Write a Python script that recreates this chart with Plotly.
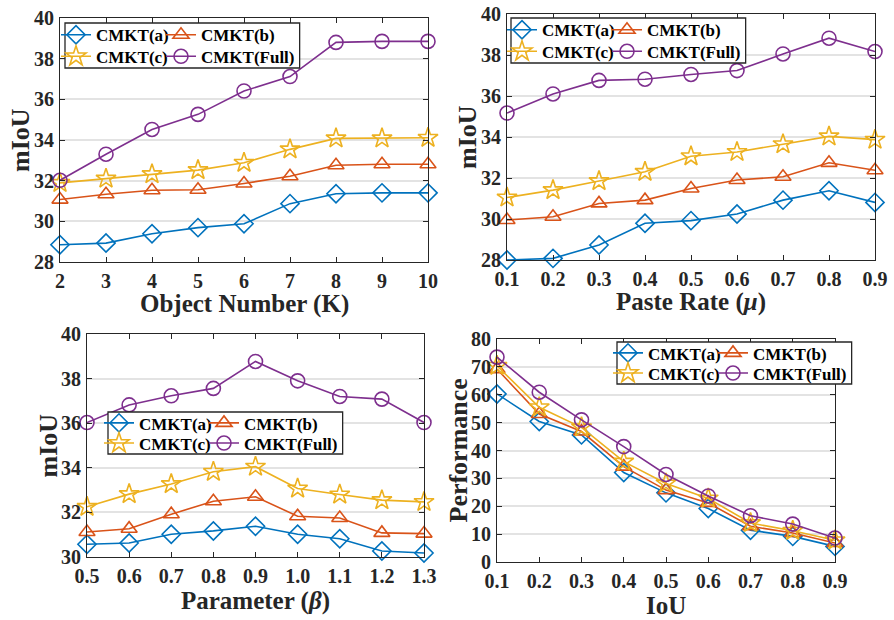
import plotly.graph_objects as go

# ---------------- data ----------------
series_names = ["CMKT(a)", "CMKT(b)", "CMKT(c)", "CMKT(Full)"]

k_values = [2, 3, 4, 5, 6, 7, 8, 9, 10]
k_a = [28.85, 28.93, 29.39, 29.69, 29.88, 30.87, 31.36, 31.40, 31.40]
k_b = [31.07, 31.33, 31.53, 31.55, 31.86, 32.22, 32.76, 32.81, 32.81]
k_c = [31.89, 32.10, 32.32, 32.52, 32.88, 33.54, 34.08, 34.08, 34.11]
k_full = [32.02, 33.30, 34.52, 35.26, 36.41, 37.12, 38.80, 38.85, 38.85]

mu_values = [0.1, 0.2, 0.3, 0.4, 0.5, 0.6, 0.7, 0.8, 0.9]
mu_a = [28.00, 28.08, 28.73, 29.79, 29.92, 30.24, 30.92, 31.38, 30.81]
mu_b = [29.95, 30.11, 30.76, 30.92, 31.49, 31.90, 32.06, 32.74, 32.38]
mu_c = [31.05, 31.41, 31.85, 32.30, 33.06, 33.27, 33.65, 34.03, 33.87]
mu_full = [35.17, 36.10, 36.76, 36.82, 37.05, 37.24, 38.05, 38.82, 38.17]

beta_values = [0.5, 0.6, 0.7, 0.8, 0.9, 1.0, 1.1, 1.2, 1.3]
beta_a = [30.57, 30.63, 31.02, 31.17, 31.38, 31.02, 30.82, 30.27, 30.18]
beta_b = [31.12, 31.27, 31.92, 32.50, 32.70, 31.83, 31.75, 31.08, 31.05]
beta_c = [32.25, 32.82, 33.27, 33.82, 34.05, 33.07, 32.80, 32.55, 32.47]
beta_full = [36.03, 36.82, 37.23, 37.56, 38.77, 37.90, 37.20, 37.08, 36.03]

iou_values = [0.1, 0.2, 0.3, 0.4, 0.5, 0.6, 0.7, 0.8, 0.9]
iou_a = [60.3, 50.4, 45.6, 32.1, 24.8, 19.2, 11.4, 9.2, 5.6]
iou_b = [69.2, 53.1, 46.8, 34.2, 25.8, 21.2, 12.8, 10.4, 6.8]
iou_c = [70.4, 55.5, 48.3, 36.0, 28.2, 22.8, 14.0, 11.2, 7.8]
iou_full = [73.5, 60.9, 51.0, 41.4, 31.4, 23.7, 16.6, 13.6, 8.6]

k_ticks = ["2", "3", "4", "5", "6", "7", "8", "9", "10"]
mu_ticks = ["0.1", "0.2", "0.3", "0.4", "0.5", "0.6", "0.7", "0.8", "0.9"]
beta_ticks = ["0.5", "0.6", "0.7", "0.8", "0.9", "1.0", "1.1", "1.2", "1.3"]

# ---------------- style ----------------
W, H = 894, 620
FONT = "Liberation Serif"
AXC = "#262626"
colors = ["#0072BD", "#D95319", "#EDB120", "#7E2F8E"]
symbols = ["diamond-open", "triangle-up-open", "star-open", "circle-open"]
msizes = [14, 14, 15, 14]
LEG_FS = 17
EW1 = 60   # text width of first legend column
EW2 = 96   # text width of second legend column


def px_x(x):
    return x / W


def px_y(y):
    return 1 - y / H


panels = [
    dict(x=k_values, ys=[k_a, k_b, k_c, k_full], xd=(60, 428), yd=(18, 262),
         yr=[28, 40], dt=2, tt=k_ticks, xr=[2, 10],
         leg=(65, 23, 68), xt="Object Number (K)", yt="mIoU", xtpos=304, ytpos=20),
    dict(x=mu_values, ys=[mu_a, mu_b, mu_c, mu_full], xd=(507, 875), yd=(14, 260),
         yr=[28, 40], dt=2, tt=mu_ticks, xr=[0.1, 0.9],
         leg=(511, 18, 63), xt="Paste Rate (<i>μ</i>)", yt="mIoU", xtpos=302, ytpos=467),
    dict(x=beta_values, ys=[beta_a, beta_b, beta_c, beta_full], xd=(87, 424), yd=(334, 557),
         yr=[30, 40], dt=2, tt=beta_ticks, xr=[0.5, 1.3],
         leg=(108, 412, 454), xt="Parameter (<i>β</i>)", yt="mIoU", xtpos=601, ytpos=48),
    dict(x=iou_values, ys=[iou_a, iou_b, iou_c, iou_full], xd=(497, 835), yd=(339, 562),
         yr=[0, 80], dt=10, tt=mu_ticks, xr=[0.1, 0.9],
         leg=(617, 342, 384), xt="IoU", yt="Performance", xtpos=605, ytpos=458),
]

fig = go.Figure()
annotations = []
shapes = []
layout_extra = {}
leg_count = 0

for i, p in enumerate(panels):
    n = i + 1
    xa = "x" if n == 1 else f"x{n}"
    ya = "y" if n == 1 else f"y{n}"
    lx0, ly0, ly1 = p["leg"]
    legx = lx0 - 9
    lx1 = legx + 40 + EW1 + 5 + 40 + 5.45 * LEG_FS + 6
    row_names = []
    for r in range(2):
        leg_count += 1
        lname = "legend" if leg_count == 1 else f"legend{leg_count}"
        row_names.append(lname)
        rowc = ly0 + (ly1 - ly0) * (0.27 + 0.48 * r)
        layout_extra[lname] = dict(
            x=px_x(legx), y=px_y(rowc), xanchor="left", yanchor="middle",
            orientation="h", itemwidth=30,
            bgcolor="rgba(0,0,0,0)", borderwidth=0, tracegroupgap=0,
            font=dict(family=FONT, size=LEG_FS, color="black", weight="bold"),
            itemclick=False, itemdoubleclick=False)
    shapes.append(dict(type="rect", xref="paper", yref="paper",
                       x0=px_x(lx0), x1=px_x(lx1), y0=px_y(ly1), y1=px_y(ly0),
                       line=dict(color=AXC, width=1.3), fillcolor="white", layer="above"))
    for j, (name, yv) in enumerate(zip(series_names, p["ys"])):
        fig.add_trace(go.Scatter(
            x=p["x"], y=yv, name=name, mode="lines+markers",
            xaxis=xa, yaxis=ya, legend=row_names[j // 2], cliponaxis=False,
            legendwidth=EW1 if j % 2 == 0 else EW2,
            line=dict(color=colors[j], width=1.6),
            marker=dict(symbol=symbols[j], size=msizes[j], color=colors[j],
                        line=dict(color=colors[j], width=1.6)),
        ))
    axcommon = dict(showline=True, linecolor=AXC, linewidth=1.2, mirror="ticks",
                    ticks="inside", ticklen=5, tickcolor=AXC, tickwidth=1.2,
                    tickfont=dict(family=FONT, size=20, color=AXC, weight="bold"),
                    zeroline=False)
    xkey = "xaxis" if n == 1 else f"xaxis{n}"
    ykey = "yaxis" if n == 1 else f"yaxis{n}"
    layout_extra[xkey] = dict(
        domain=[px_x(p["xd"][0]), px_x(p["xd"][1])], anchor=ya, range=p["xr"],
        tickmode="array", tickvals=p["x"], ticktext=p["tt"], showgrid=False,
        ticklabelstandoff=1, **axcommon)
    layout_extra[ykey] = dict(
        domain=[px_y(p["yd"][1]), px_y(p["yd"][0])], anchor=xa, range=p["yr"],
        dtick=p["dt"], tick0=0, showgrid=True, gridcolor="#e3e3e3", gridwidth=1.5,
        ticklabelstandoff=1, **axcommon)
    cx = (p["xd"][0] + p["xd"][1]) / 2
    annotations.append(dict(text=p["xt"], x=px_x(cx), y=px_y(p["xtpos"]), xref="paper", yref="paper",
                            xanchor="center", yanchor="middle", showarrow=False,
                            font=dict(family=FONT, size=25, color=AXC, weight="bold")))
    cy = (p["yd"][0] + p["yd"][1]) / 2
    annotations.append(dict(text=p["yt"], x=px_x(p["ytpos"]), y=px_y(cy), xref="paper", yref="paper",
                            xanchor="center", yanchor="middle", showarrow=False, textangle=-90,
                            font=dict(family=FONT, size=26, color=AXC, weight="bold")))

fig.update_layout(
    width=W, height=H, margin=dict(l=0, r=0, t=0, b=0, autoexpand=False),
    paper_bgcolor="white", plot_bgcolor="white",
    font=dict(family=FONT, color=AXC),
    annotations=annotations, shapes=shapes, **layout_extra,
)

fig.write_html("out.html")
